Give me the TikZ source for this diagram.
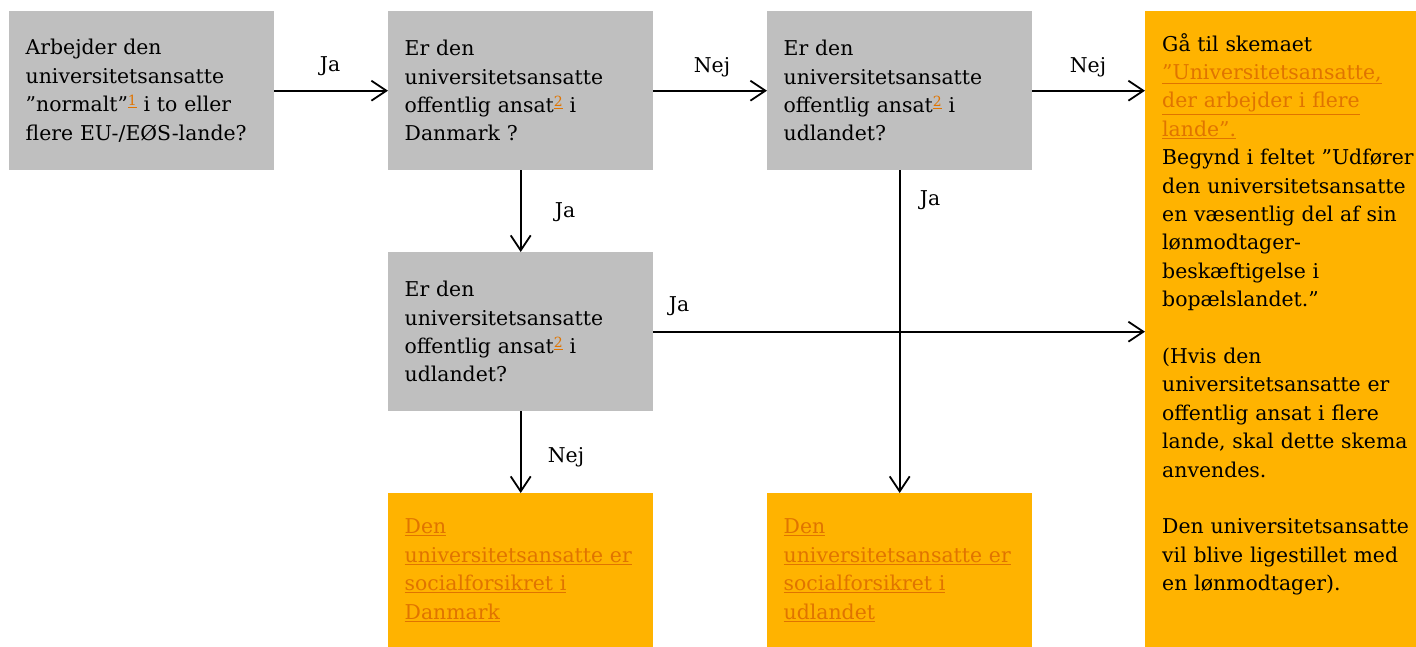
\documentclass[tikz,border=0pt]{standalone}
\usepackage{fontspec}
\setmainfont{DejaVu Serif}
\usetikzlibrary{arrows.meta}
\definecolor{boxgray}{HTML}{BFBFBF}
\definecolor{boxorange}{HTML}{FFB300}
\definecolor{linkc}{HTML}{E07400}
\newcommand{\fnref}[1]{\textcolor{linkc}{\raisebox{6pt}{\fontsize{14}{14}\selectfont\underline{#1}}}}
\newcommand{\lnk}[1]{\textcolor{linkc}{\underline{#1}}}
\tikzset{
 qbox/.style={fill=boxgray, draw=none, anchor=north west, minimum width=265pt, minimum height=159pt, inner sep=0pt, text width=232pt, align=left, font=\fontsize{20.4}{28.4}\selectfont},
 abox/.style={qbox, fill=boxorange},
 conn/.style={line width=1.8pt, -{Straight Barb[length=15pt,width=20pt,line width=1.8pt]}},
 lbl/.style={font=\fontsize{20.4}{24}\selectfont, inner sep=0pt, anchor=base}
}
\begin{document}
\begin{tikzpicture}[x=1pt,y=-1pt]
\path[fill=white] (0,0) rectangle (1416,647);
\useasboundingbox (0,0) rectangle (1416,647);
\node[qbox] (A) at (9,11) {Arbejder den\\universitetsansatte\\”normalt”\fnref{1} i to eller\\flere EU-/EØS-lande?};
\node[qbox] (B) at (388,11) {Er den\\universitetsansatte\\offentlig ansat\fnref{2} i\\Danmark ?};
\node[qbox] (C) at (767,11) {Er den\\universitetsansatte\\offentlig ansat\fnref{2} i\\udlandet?};
\node[qbox] (E) at (388,252) {Er den\\universitetsansatte\\offentlig ansat\fnref{2} i\\udlandet?};
\node[abox, minimum height=154pt] (F) at (388,493) {\lnk{Den}\\\lnk{universitetsansatte er}\\\lnk{socialforsikret i}\\\lnk{Danmark}};
\node[abox, minimum height=154pt] (G) at (767,493) {\lnk{Den}\\\lnk{universitetsansatte er}\\\lnk{socialforsikret i}\\\lnk{udlandet}};
\node[fill=boxorange, anchor=north west, minimum width=272pt, minimum height=636pt, inner sep=0pt] (D) at (1145,11) {};
\node[anchor=north west, inner sep=0pt, text width=255pt, align=left, font=\fontsize{20.4}{28.4}\selectfont] (Dt) at (1162,33) {Gå til skemaet\\\lnk{”Universitetsansatte,}\\\lnk{der arbejder i flere}\\\lnk{lande”.}\\Begynd i feltet ”Udfører\\den universitetsansatte\\en væsentlig del af sin\\lønmodtager-\\beskæftigelse i\\bopælslandet.”\\[28.4pt](Hvis den\\universitetsansatte er\\offentlig ansat i flere\\lande, skal dette skema\\anvendes.\\[28.4pt]Den universitetsansatte\\vil blive ligestillet med\\en lønmodtager).};
\draw[conn] (A.east) -- (B.west);
\draw[conn] (B.east) -- (C.west);
\draw[conn] (C.east) -- (C.east -| D.west);
\draw[conn] (B.south) -- (E.north);
\draw[conn] (C.south) -- (G.north);
\draw[conn] (E.east) -- (E.east -| D.west);
\draw[conn] (E.south) -- (F.north);
\node[lbl] (l1) at (330,72) {Ja};
\node[lbl] (l2) at (712,73) {Nej};
\node[lbl] (l3) at (1088,73) {Nej};
\node[lbl] (l4) at (565,218) {Ja};
\node[lbl] (l5) at (930,206) {Ja};
\node[lbl] (l6) at (679,311) {Ja};
\node[lbl] (l7) at (566,462) {Nej};
\end{tikzpicture}
\end{document}
